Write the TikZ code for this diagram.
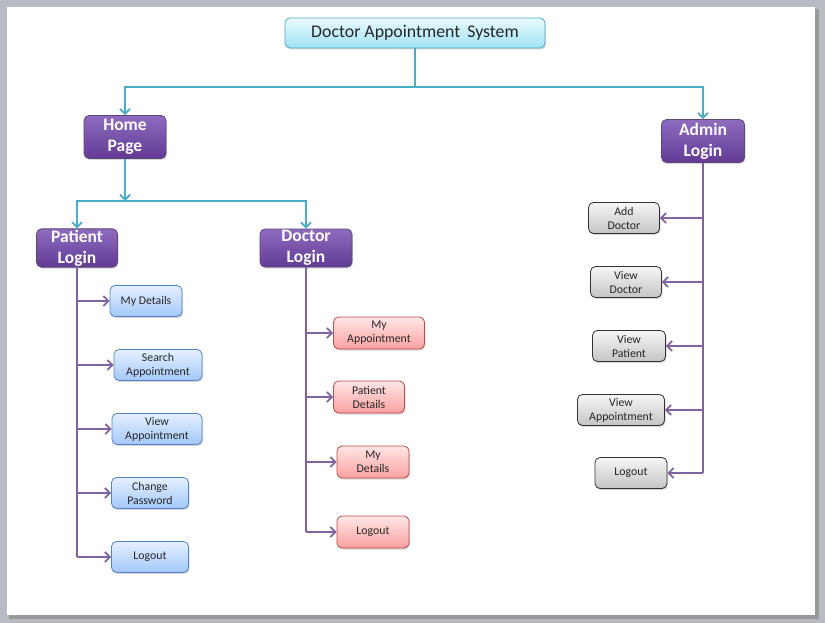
\documentclass[tikz,border=0pt]{standalone}
\usepackage{fontspec}
\setmainfont{Carlito}
\usetikzlibrary{arrows.meta, positioning, calc, shadows}
\definecolor{TitleTop}{RGB}{234,250,255}
\definecolor{TitleBot}{RGB}{160,226,244}
\definecolor{TitleEdge}{RGB}{75,172,198}
\definecolor{HeadTop}{RGB}{142,108,192}
\definecolor{HeadBot}{RGB}{98,58,148}
\definecolor{HeadEdge}{RGB}{92,70,122}
\definecolor{BlueTop}{RGB}{228,240,255}
\definecolor{BlueBot}{RGB}{164,200,250}
\definecolor{BlueEdge}{RGB}{84,132,200}
\definecolor{RedTop}{RGB}{255,230,230}
\definecolor{RedBot}{RGB}{250,160,160}
\definecolor{RedEdge}{RGB}{190,76,72}
\definecolor{GreyTop}{RGB}{246,246,246}
\definecolor{GreyBot}{RGB}{196,196,196}
\definecolor{GreyEdge}{RGB}{50,50,50}
\definecolor{LinkTeal}{RGB}{75,172,198}
\definecolor{LinkPurple}{RGB}{128,100,162}
\definecolor{PageGrey}{RGB}{184,188,194}

\begin{document}
\begin{tikzpicture}[x=1pt, y=-1pt,
    box/.style={rounded corners=5pt, draw, line width=0.8pt, shading=axis,
      align=center, inner sep=1pt, text=black!85,
      font=\fontsize{11.8}{14}\selectfont,
      drop shadow={shadow xshift=1pt, shadow yshift=-1.5pt, opacity=0.3}},
    titlebox/.style={box, top color=TitleTop, bottom color=TitleBot, draw=TitleEdge,
      font=\fontsize{17.8}{20}\selectfont},
    headbox/.style={box, top color=HeadTop, bottom color=HeadBot, draw=HeadEdge,
      text=white, font=\fontsize{17.5}{21}\selectfont\bfseries},
    bluebox/.style={box, top color=BlueTop, bottom color=BlueBot, draw=BlueEdge},
    redbox/.style={box, top color=RedTop, bottom color=RedBot, draw=RedEdge},
    greybox/.style={box, top color=GreyTop, bottom color=GreyBot, draw=GreyEdge},
    tlink/.style={LinkTeal, line width=1.8pt},
    plink/.style={LinkPurple, line width=1.8pt},
    tip/.style={-{Straight Barb[length=5pt,width=10pt]}}
  ]
  % Page
  \useasboundingbox (0,0) rectangle (825,623);
  \fill[PageGrey] (0,0) rectangle (825,623);
  \fill[black!40] (9,9) rectangle (819,619);
  \fill[white] (7,7) rectangle (815,615);

  % Top levels
  \node[titlebox, minimum width=260pt, minimum height=30pt] (title) at (415,33) {Doctor Appointment\, System};
  \node[headbox, minimum width=82pt, minimum height=43pt] (home) at (125,137) {Home\\Page};
  \node[headbox, minimum width=83pt, minimum height=43pt] (admin) at (703,141) {Admin\\Login};
  \node[headbox, minimum width=81pt, minimum height=38pt] (patient) at (77,248) {Patient\\Login};
  \node[headbox, minimum width=92pt, minimum height=38pt] (doctor) at (306,248) {Doctor\\Login};

  % Splits
  \coordinate (split) at (415,87);
  \coordinate (hsplit) at (125,201);
  \draw[tlink] (title.south) -- (split);
  \draw[tlink,tip] (split) -| (home.north);
  \draw[tlink,tip] (split) -| (admin.north);
  \draw[tlink,tip] (home.south) -- (hsplit);
  \draw[tlink,tip] (hsplit) -| (patient.north);
  \draw[tlink,tip] (hsplit) -| (doctor.north);

  % Patient menu
  \foreach \name/\txt/\cx/\cy/\w in {
      pdet/{My Details}/146/301/72,
      psearch/{Search\\Appointment}/158/365/88,
      pview/{View\\Appointment}/157/429/90,
      ppass/{Change\\Password}/150/493/77,
      plog/{Logout}/150/557/77}{
    \node[bluebox, minimum width=\w pt, minimum height=31pt] (\name) at (\cx,\cy) {\txt};
    \draw[plink,tip] (patient.south |- \name.west) -- (\name.west);
  }
  \draw[plink] (patient.south) -- (patient.south |- plog.west);

  % Doctor menu
  \foreach \name/\txt/\cx/\cy/\w in {
      dapp/{My\\Appointment}/379/333/91,
      dpat/{Patient\\Details}/369/397/71,
      ddet/{My\\Details}/373/462/72,
      dlog/{Logout}/373/532/72}{
    \node[redbox, minimum width=\w pt, minimum height=32pt] (\name) at (\cx,\cy) {\txt};
    \draw[plink,tip] (doctor.south |- \name.west) -- (\name.west);
  }
  \draw[plink] (doctor.south) -- (doctor.south |- dlog.west);

  % Admin menu
  \foreach \name/\txt/\cx/\cy/\w in {
      aadd/{Add\\Doctor}/624/218/71,
      adoc/{View\\Doctor}/626/282/71,
      apat/{View\\Patient}/629/346/73,
      aapp/{View\\Appointment}/621/410/87,
      alog/{Logout}/631/473/72}{
    \node[greybox, minimum width=\w pt, minimum height=31pt] (\name) at (\cx,\cy) {\txt};
    \draw[plink,tip] (admin.south |- \name.east) -- (\name.east);
  }
  \draw[plink] (admin.south) -- (admin.south |- alog.east);
\end{tikzpicture}
\end{document}
